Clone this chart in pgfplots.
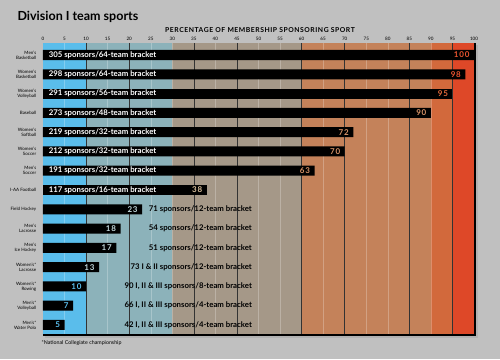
\documentclass[border=0pt]{standalone}
\usepackage{pgfplots}
\pgfplotsset{compat=1.18}
\usepackage{fontspec}
\setmainfont{Lato}
\definecolor{bgc}{HTML}{C0C0C0}
\definecolor{bA}{HTML}{5ABDEB}
\definecolor{bB}{HTML}{8CB2BA}
\definecolor{bC}{HTML}{A59888}
\definecolor{bD}{HTML}{C4825A}
\definecolor{bE}{HTML}{D2693C}
\definecolor{bF}{HTML}{DE4828}
\definecolor{vRed}{HTML}{EE5530}
\definecolor{vOr}{HTML}{E46A3A}
\definecolor{vTan}{HTML}{DA9468}
\definecolor{vBeige}{HTML}{DCC29E}
\definecolor{vTeal}{HTML}{C2D8DC}
\definecolor{vBlue}{HTML}{5CC2F2}
\pgfplotsset{vlab/.style={nodes near coords, every node near coord/.append style={anchor=east, text=#1, font=\fontsize{8}{9}\selectfont\bfseries\addfontfeature{LetterSpace=10}, xshift=-1pt}}}
\tikzset{
  intxt/.style={anchor=west, text=white, inner sep=0pt, font=\fontsize{7.8}{8}\selectfont\bfseries},
  outtxt/.style={anchor=east, text=black, inner sep=0pt, font=\fontsize{7.8}{8}\selectfont\bfseries}}
\begin{document}
\begin{tikzpicture}
\fill[bgc] (0pt,0pt) rectangle (500pt,359pt);
\fill[black!30] (45pt,21.5pt) rectangle (477.5pt,314pt);
\node[anchor=west, font=\fontsize{12.5}{14}\selectfont\bfseries] at (14pt,342pt) {Division I team sports};
\node[font=\fontsize{6.8}{8}\selectfont\bfseries\addfontfeature{LetterSpace=8}] at (260pt,329pt) {PERCENTAGE OF MEMBERSHIP SPONSORING SPORT};
\node[anchor=west, font=\fontsize{5.3}{6}\selectfont] at (38pt,16pt) {*National Collegiate championship};
\begin{axis}[
  at={(43pt,24pt)}, anchor=south west, scale only axis,
  width=431pt, height=292pt,
  clip=false,
  xmin=0, xmax=100, ymin=0.378, ymax=15.52, y dir=reverse,
  axis x line*=top, axis y line*=left,
  x axis line style={draw=none}, y axis line style={black, line width=0.6pt},
  xtick={0,5,...,100},
  xticklabel style={font=\fontsize{4.6}{5}\selectfont, yshift=-1pt},
  /pgf/number format/assume math mode=true,
  xtick style={draw=none}, ytick style={draw=none},
  ytick={1,...,15},
  yticklabels={{Men's\\Basketball},{Women's\\Basketball},{Women's\\Volleyball},{Baseball},{Women's\\Softball},{Women's\\Soccer},{Men's\\Soccer},{I-AA Football},{Field Hockey},{Men's\\Lacrosse},{Men's\\Ice Hockey},{Women's*\\Lacrosse},{Women's*\\Rowing},{Men's*\\Volleyball},{Men's*\\Water Polo}},
  yticklabel style={font=\fontsize{4.5}{5}\selectfont, align=right, xshift=1pt},
  xbar, bar width=0.52, bar shift=0pt,
]
\fill[bA] (axis cs:0,0.378) rectangle (axis cs:10,15.52);
\fill[bB] (axis cs:10,0.378) rectangle (axis cs:30,15.52);
\fill[bC] (axis cs:30,0.378) rectangle (axis cs:60,15.52);
\fill[bD] (axis cs:60,0.378) rectangle (axis cs:90,15.52);
\fill[bE] (axis cs:90,0.378) rectangle (axis cs:95,15.52);
\fill[bF] (axis cs:95,0.378) rectangle (axis cs:100,15.52);
\pgfplotsinvokeforeach{5,15,25,30,40,50,55,65,75,80,90}{
  \draw[white, opacity=0.25, line width=0.5pt] (axis cs:#1,0.378) -- (axis cs:#1,15.52);}
\pgfplotsinvokeforeach{10,20,35,45,60,70,85,95}{
  \draw[black!80, line width=0.5pt] (axis cs:#1,0.378) -- (axis cs:#1,15.52);}
\addplot[fill=black, draw=none, vlab=vRed] coordinates {(100,1) (98,2)};
\addplot[fill=black, draw=none, vlab=vOr] coordinates {(95,3)};
\addplot[fill=black, draw=none, vlab=vTan] coordinates {(90,4) (72,5) (70,6) (63,7)};
\addplot[fill=black, draw=none, vlab=vBeige] coordinates {(38,8)};
\addplot[fill=black, draw=none, vlab=vTeal] coordinates {(23,9) (18,10) (17,11) (13,12)};
\addplot[fill=black, draw=none, vlab=vBlue] coordinates {(10,13) (7,14) (5,15)};
\node[intxt] at (axis cs:1.3,1) {305 sponsors/64-team bracket};
\node[intxt] at (axis cs:1.3,2) {298 sponsors/64-team bracket};
\node[intxt] at (axis cs:1.3,3) {291 sponsors/56-team bracket};
\node[intxt] at (axis cs:1.3,4) {273 sponsors/48-team bracket};
\node[intxt] at (axis cs:1.3,5) {219 sponsors/32-team bracket};
\node[intxt] at (axis cs:1.3,6) {212 sponsors/32-team bracket};
\node[intxt] at (axis cs:1.3,7) {191 sponsors/32-team bracket};
\node[intxt] at (axis cs:1.3,8) {117 sponsors/16-team bracket};
\node[outtxt] at (axis cs:48.5,9) {71 sponsors/12-team bracket};
\node[outtxt] at (axis cs:48.5,10) {54 sponsors/12-team bracket};
\node[outtxt] at (axis cs:48.5,11) {51 sponsors/12-team bracket};
\node[outtxt] at (axis cs:48.5,12) {73 I \& II sponsors/12-team bracket};
\node[outtxt] at (axis cs:48.5,13) {90 I, II \& III sponsors/8-team bracket};
\node[outtxt] at (axis cs:48.5,14) {66 I, II \& III sponsors/4-team bracket};
\node[outtxt] at (axis cs:48.5,15) {42 I, II \& III sponsors/4-team bracket};
\end{axis}
\draw[black, line width=1.6pt] (43pt,24pt) -- (475pt,24pt) -- (475pt,316pt);
\pgfresetboundingbox
\useasboundingbox (0pt,0pt) rectangle (500pt,359pt);
\end{tikzpicture}
\end{document}
